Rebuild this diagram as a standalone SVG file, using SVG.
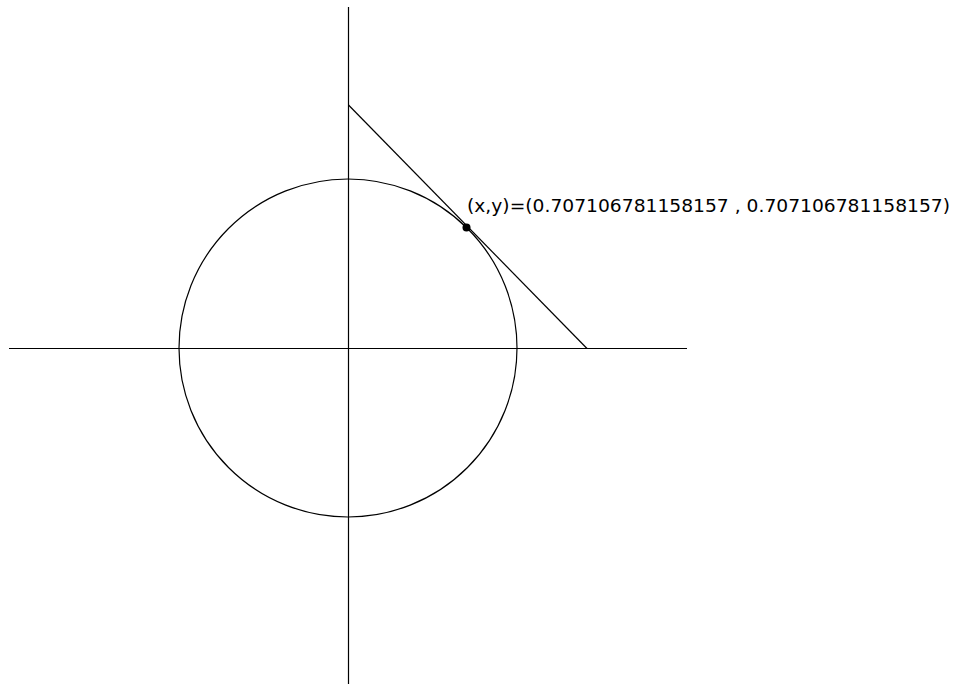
<svg xmlns="http://www.w3.org/2000/svg" width="959" height="684" viewBox="0 0 959 684">
<style>
.ln{stroke:#000;stroke-width:1.2;fill:none}
.lbl{font-family:"DejaVu Sans","Liberation Sans",sans-serif;font-size:18px;fill:#000}
</style>
<rect width="959" height="684" fill="#fff"/>
<g id="connectors">
<line class="ln" x1="348.5" y1="7" x2="348.5" y2="684"/>
<line class="ln" x1="9" y1="348.5" x2="687" y2="348.5"/>
<line class="ln" x1="348.5" y1="105" x2="587" y2="348.5"/>
</g>
<g id="circle"><circle class="ln" cx="348" cy="348" r="169"/></g>
<g id="point">
<circle cx="466.5" cy="227.5" r="4" fill="#000"/>
<text class="lbl" x="467" y="212" textLength="483" lengthAdjust="spacingAndGlyphs">(x,y)=(0.707106781158157 , 0.707106781158157)</text>
</g>
</svg>
